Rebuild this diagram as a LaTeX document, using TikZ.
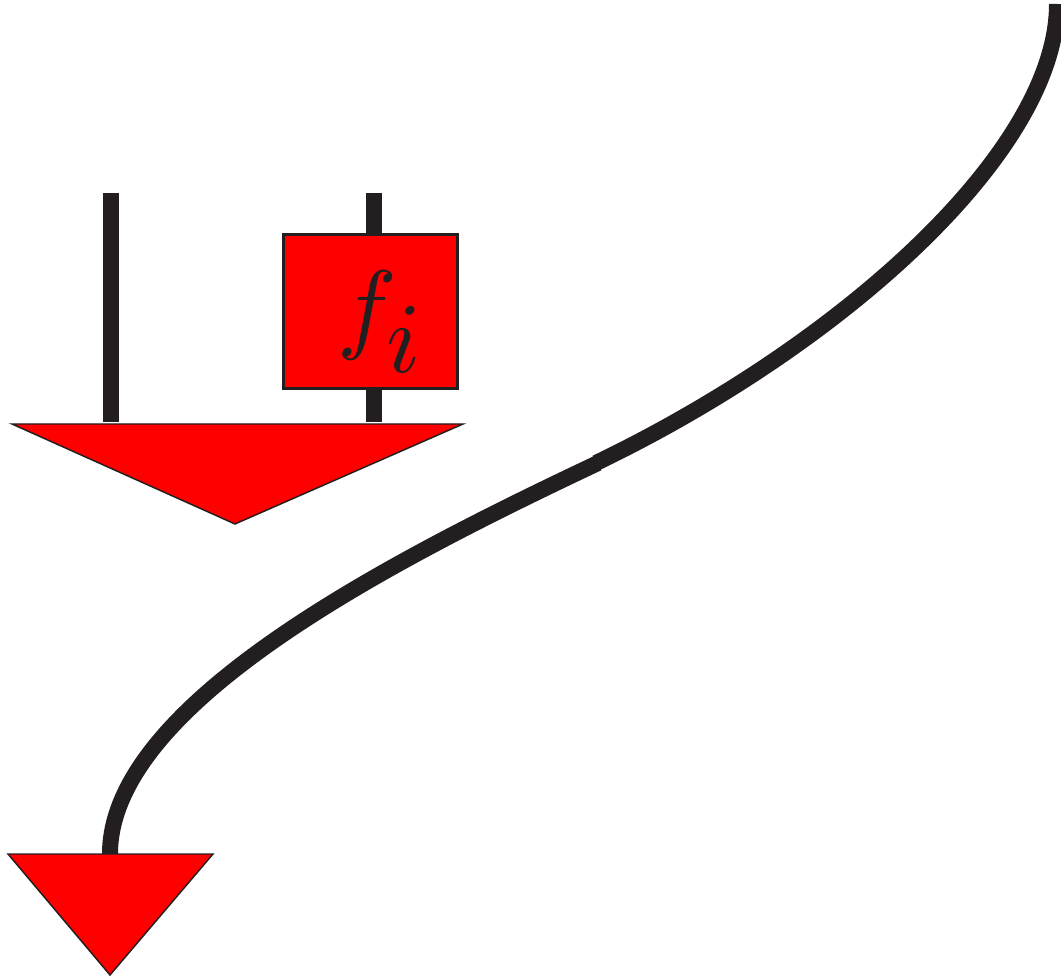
\documentclass[tikz,border=0pt]{standalone}
\definecolor{ink}{HTML}{231F20}
\definecolor{redfill}{HTML}{FF0000}
\begin{document}
\begin{tikzpicture}[x=0.75pt,y=-0.75pt,
  wire/.style={draw=ink,line width=12pt},
  redshape/.style={fill=redfill,draw=ink,line width=1.1pt,line join=miter},
  boxnode/.style={rectangle,fill=redfill,draw=ink,line width=1.6pt,minimum width=174*0.75pt,minimum height=154*0.75pt,inner sep=0pt},
  labelnode/.style={inner sep=0pt,text=ink,scale=7.5}]
\useasboundingbox (0,0) rectangle (1061,980);
% coordinates
\coordinate (lt) at (110.5,193);
\coordinate (lb) at (110.5,422);
\coordinate (rt) at (374,193);
\coordinate (rb) at (374,422);
\coordinate (ctop) at (1057,4);
\coordinate (cmid) at (596,463);
\coordinate (cbot) at (110,854);
% vertical wires
\draw[wire] (lt) -- (lb);
\draw[wire] (rt) -- (rb);
% box with label
\node[boxnode] (box) at (370.5,311.5) {};
\node[labelnode] (lab) at (382,322) {$f_{\textstyle i}$};
% big triangle
\path[redshape] (12,424) -- (463,424) -- (235,524) -- cycle;
% S-curve
\draw[wire] (ctop) .. controls (1057,150) and (845,343) .. (cmid);
\draw[wire] ([xshift=1.5]cmid) .. controls (395,559) and (110,703) .. (cbot);
% small triangle
\path[redshape] (8,854) -- (213,854) -- (110,975) -- cycle;
\end{tikzpicture}
\end{document}
